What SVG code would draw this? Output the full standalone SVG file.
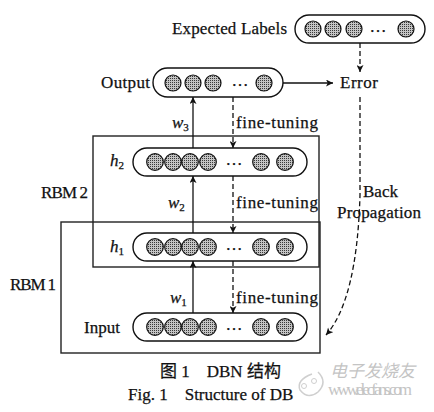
<svg xmlns="http://www.w3.org/2000/svg" width="434" height="412" viewBox="0 0 434 412">
<style>
text{font-family:'Liberation Serif','Noto Sans CJK SC',serif;font-size:17px;fill:#111;stroke:#111;stroke-width:0.25}
.cap{fill:#fff;stroke:#111;stroke-width:1.4}
.nd{fill:url(#dots);stroke:#111;stroke-width:1.2}
.box{fill:none;stroke:#222;stroke-width:1.4}
.sl{fill:none;stroke:#111;stroke-width:1.3}
.dl{fill:none;stroke:#111;stroke-width:1.3;stroke-dasharray:5 3}
.it{font-style:italic}
.sub{font-size:11px}
text.wm{fill:#c4c4c4;stroke:none}
</style>
<defs>
<pattern id="dots" width="2" height="2" patternUnits="userSpaceOnUse">
<rect width="2" height="2" fill="#c4c4c4"/>
<rect width="1" height="1" fill="#3a3a3a"/>
</pattern>
<marker id="ah" viewBox="0 0 10 10" refX="10" refY="5" markerWidth="8" markerHeight="7" markerUnits="userSpaceOnUse" orient="auto">
<path d="M0,0 L10,5 L0,10 L2.5,5 Z" fill="#111"/>
</marker>
</defs>

<g id="rbm2">
<rect class="box" x="93" y="136" width="226" height="131"/>
<text x="41" y="198" textLength="47">RBM 2</text>
</g>
<g id="rbm1">
<rect class="box" x="61" y="222" width="259" height="131"/>
<text x="10" y="290" textLength="46">RBM 1</text>
</g>

<g id="node-expected">
<text x="172" y="34" textLength="115">Expected Labels</text>
<rect class="cap" x="295" y="15" width="130" height="28" rx="14"/>
<circle class="nd" cx="313" cy="29" r="8"/>
<circle class="nd" cx="333" cy="29" r="8"/>
<circle class="nd" cx="354" cy="29" r="8"/>
<text x="378" y="32" text-anchor="middle">…</text>
<circle class="nd" cx="406" cy="29" r="8"/>
</g>

<g id="node-output">
<text x="101" y="88" textLength="49">Output</text>
<rect class="cap" x="153" y="68" width="130" height="29" rx="14.5"/>
<circle class="nd" cx="173" cy="83" r="8"/>
<circle class="nd" cx="193" cy="83" r="8"/>
<circle class="nd" cx="213" cy="83" r="8"/>
<text x="240" y="86" text-anchor="middle">…</text>
<circle class="nd" cx="264" cy="83" r="8"/>
</g>

<g id="node-error">
<text x="340" y="88" textLength="38">Error</text>
</g>

<g id="node-h2">
<text x="110" y="166" class="it">h<tspan class="sub" dy="3" font-style="normal">2</tspan></text>
<rect class="cap" x="133" y="148" width="174" height="28" rx="14"/>
<circle class="nd" cx="155" cy="162" r="8.3"/>
<circle class="nd" cx="173" cy="162" r="8.3"/>
<circle class="nd" cx="190" cy="162" r="8.3"/>
<circle class="nd" cx="208" cy="162" r="8.3"/>
<text x="234" y="165" text-anchor="middle">…</text>
<circle class="nd" cx="261" cy="162" r="8.3"/>
<circle class="nd" cx="285" cy="162" r="8.3"/>
</g>

<g id="node-h1">
<text x="110" y="252" class="it">h<tspan class="sub" dy="3" font-style="normal">1</tspan></text>
<rect class="cap" x="133" y="233" width="174" height="28" rx="14"/>
<circle class="nd" cx="155" cy="247" r="8.3"/>
<circle class="nd" cx="173" cy="247" r="8.3"/>
<circle class="nd" cx="190" cy="247" r="8.3"/>
<circle class="nd" cx="208" cy="247" r="8.3"/>
<text x="234" y="250" text-anchor="middle">…</text>
<circle class="nd" cx="261" cy="247" r="8.3"/>
<circle class="nd" cx="285" cy="247" r="8.3"/>
</g>

<g id="node-input">
<text x="84" y="333" textLength="36">Input</text>
<rect class="cap" x="133" y="313" width="174" height="28" rx="14"/>
<circle class="nd" cx="155" cy="327" r="8.3"/>
<circle class="nd" cx="173" cy="327" r="8.3"/>
<circle class="nd" cx="190" cy="327" r="8.3"/>
<circle class="nd" cx="208" cy="327" r="8.3"/>
<text x="234" y="330" text-anchor="middle">…</text>
<circle class="nd" cx="261" cy="327" r="8.3"/>
<circle class="nd" cx="285" cy="327" r="8.3"/>
</g>

<g id="connectors">
<line class="sl" x1="283" y1="83" x2="333" y2="83" marker-end="url(#ah)"/>
<line class="dl" x1="360" y1="43" x2="360" y2="72" marker-end="url(#ah)"/>
<line class="sl" x1="193" y1="148" x2="193" y2="97" marker-end="url(#ah)"/>
<line class="dl" x1="233" y1="97" x2="233" y2="148" marker-end="url(#ah)"/>
<line class="sl" x1="193" y1="233" x2="193" y2="176" marker-end="url(#ah)"/>
<line class="dl" x1="233" y1="176" x2="233" y2="233" marker-end="url(#ah)"/>
<line class="sl" x1="193" y1="313" x2="193" y2="261" marker-end="url(#ah)"/>
<line class="dl" x1="233" y1="261" x2="233" y2="313" marker-end="url(#ah)"/>
<path class="dl" d="M360,97 L360,195 Q357,300 326,335" marker-end="url(#ah)"/>
</g>

<g id="labels">
<text x="172" y="128" class="it">w<tspan class="sub" dy="3" font-style="normal">3</tspan></text>
<text x="236" y="128" textLength="82">fine-tuning</text>
<text x="168" y="208" class="it">w<tspan class="sub" dy="3" font-style="normal">2</tspan></text>
<text x="236" y="208" textLength="82">fine-tuning</text>
<text x="170" y="303" class="it">w<tspan class="sub" dy="3" font-style="normal">1</tspan></text>
<text x="236" y="303" textLength="82">fine-tuning</text>
<text x="363" y="197">Back</text>
<text x="337" y="218" textLength="84">Propagation</text>
</g>

<g id="caption">
<text x="160" y="377" font-size="16">图 1　DBN 结构</text>
<text x="128" y="400" font-size="16">Fig. 1　Structure of DB</text>
</g>

<g id="watermark">
<path d="M318,372 Q328,382 318,392 Q308,400 300,390 Q296,380 312,374" fill="none" stroke="#cfcfcf" stroke-width="1.5"/>
<circle cx="304" cy="386" r="2.5" fill="none" stroke="#cfcfcf"/>
<circle cx="314" cy="381" r="2.5" fill="none" stroke="#cfcfcf"/>
<text x="330" y="377" class="wm" font-size="14" font-style="italic">电子发烧友</text>
<text x="328" y="395" class="wm" font-size="9" textLength="84">www.elecfans.com</text>
</g>
</svg>
